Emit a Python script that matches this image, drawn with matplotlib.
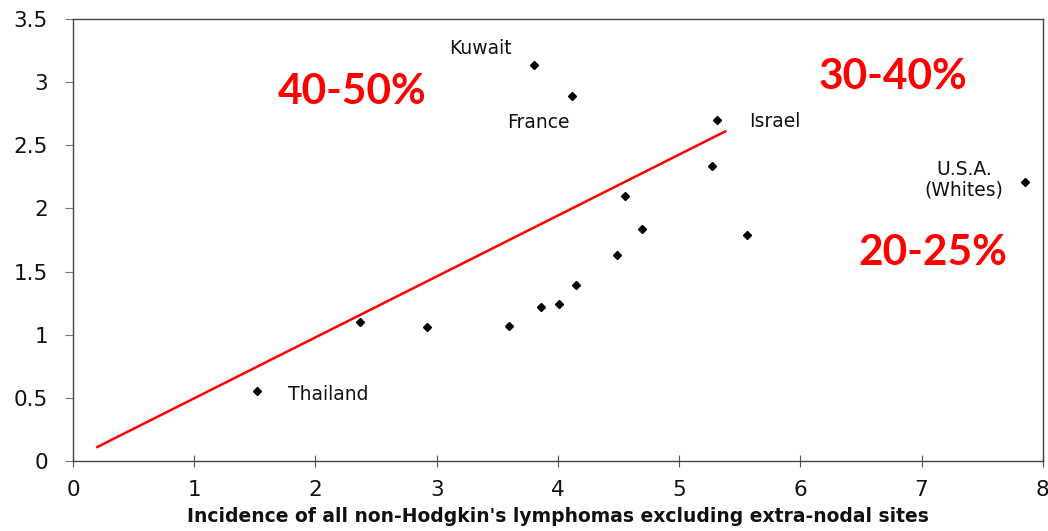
import matplotlib.pyplot as plt

# Incidence data points
incidence = [1.52, 2.37, 2.92, 3.60, 3.86, 4.01, 4.15, 4.49, 4.69, 4.55,
             5.27, 5.56, 5.31, 4.12, 3.80, 7.85]
ratio = [0.55, 1.10, 1.06, 1.07, 1.22, 1.24, 1.39, 1.63, 1.84, 2.10,
         2.34, 1.79, 2.70, 2.89, 3.14, 2.21]

# Trend line end points
line_x = [0.2, 5.38]
line_y = [0.11, 2.61]

# Country labels (text, x, y, ha)
countries = [
    ('Kuwait', 3.36, 3.27, 'center'),
    ('France', 3.84, 2.68, 'center'),
    ('Israel', 5.58, 2.69, 'left'),
    ('U.S.A.\n(Whites)', 7.35, 2.23, 'center'),
    ('Thailand', 1.77, 0.53, 'left'),
]

# Percentage bands
bands = [
    ('40-50%', 2.30, 2.92),
    ('30-40%', 6.76, 3.04),
    ('20-25%', 7.09, 1.65),
]

fig = plt.figure(figsize=(10.48, 5.31), dpi=100)
ax = fig.add_axes([0.0697, 0.132, 0.9253, 0.832])

ax.plot(incidence, ratio, 'D', color='black', markersize=4.5, linestyle='none')
ax.plot(line_x, line_y, color='red', linewidth=1.8)

for name, x, y, ha in countries:
    ax.text(x, y, name, ha=ha, va='center', fontsize=13.5,
            family='DejaVu Sans', color='#111111', linespacing=1.1)

for txt, x, y in bands:
    ax.text(x, y, txt, ha='center', va='center', fontsize=30.5,
            fontweight='bold', family='Lato', color='#ff0000')

ax.set_xlim(0, 8)
ax.set_ylim(0, 3.5)
ax.set_xticks(range(0, 9))
ax.set_yticks([0, 0.5, 1, 1.5, 2, 2.5, 3, 3.5])
ax.set_yticklabels(['0', '0.5', '1', '1.5', '2', '2.5', '3', '3.5'])

for sp in ax.spines.values():
    sp.set_color('#444444')
    sp.set_linewidth(1.0)

ax.tick_params(axis='x', direction='inout', length=8, width=0.8, colors='#555555',
               labelcolor='#111111', labelsize=15.5, pad=10)
ax.tick_params(axis='y', direction='out', length=6, width=0.8, colors='#777777',
               labelcolor='#111111', labelsize=15.5, pad=12)
for lbl in ax.get_xticklabels() + ax.get_yticklabels():
    lbl.set_family('DejaVu Sans')

ax.set_xlabel("Incidence of all non-Hodgkin's lymphomas excluding extra-nodal sites",
              fontsize=13.5, fontweight='bold', family='DejaVu Sans',
              color='#111111', labelpad=5)

fig.savefig('out.png', dpi=100)
